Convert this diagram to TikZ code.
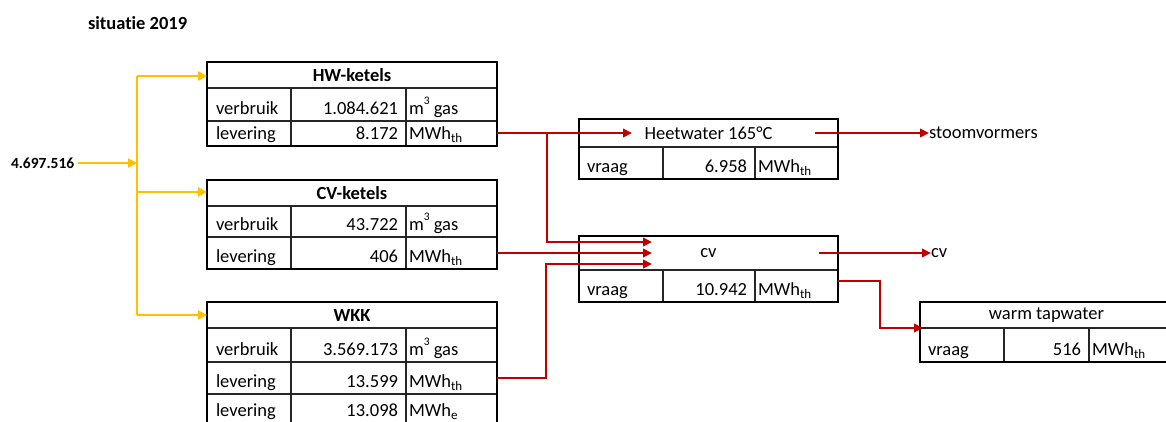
\documentclass[tikz,border=0pt]{standalone}
\usepackage{fontspec}
\setmainfont{Carlito}[Ligatures=NoCommon]
\usetikzlibrary{arrows.meta,calc}
\definecolor{flowyellow}{HTML}{FFC000}
\definecolor{flowred}{HTML}{C00000}
\newcommand\mysup[1]{\raisebox{0.52em}{\fontsize{11.5}{11.5}\selectfont #1}}
\newcommand\mysub[1]{\raisebox{-0.2em}{\fontsize{13}{13}\selectfont #1}}
\begin{document}
\begin{tikzpicture}[x=1pt,y=-1pt,
  every node/.style={inner sep=0pt, outer sep=0pt, font=\fontsize{18.5}{22}\selectfont},
  frame/.style={draw, line width=2.2pt, anchor=north west},
  hdr/.style={anchor=north west},
  rowbox/.style={anchor=north west},
  gridline/.style={line width=1.1pt, black!85},
  lab/.style={anchor=base west},
  val/.style={anchor=base east},
  unit/.style={anchor=base west},
  yarrow/.style={draw=flowyellow, line width=2.4pt, -{Triangle[length=9pt,width=9pt]}},
  yline/.style={draw=flowyellow, line width=2.4pt},
  rarrow/.style={draw=flowred, line width=2.2pt, -{Triangle[length=9pt,width=8.5pt]}},
  rline/.style={draw=flowred, line width=2.2pt}
]
\fill[white] (0,0) rectangle (1166,421);
\useasboundingbox (0,0) rectangle (1166,421);
\clip (0,0) rectangle (1166,421);

% title
\node[anchor=base west, font=\fontsize{18.5}{22}\selectfont\bfseries] (title) at (88,29) {situatie 2019};
\node[anchor=west, font=\fontsize{15.5}{18}\selectfont\bfseries] (src) at (11,163) {4.697.516};

% ---------- HW-ketels ----------
\draw[gridline] (207,88) -- (497,88) (207,121) -- (497,121) (291,88) -- (291,146) (406,88) -- (406,146);
\node[frame, minimum width=290, minimum height=84] (hw) at (207,62) {};
\node[hdr, minimum width=290, minimum height=26] (hwh) at (207,62) {\bfseries HW-ketels};
\node[rowbox, minimum width=290, minimum height=33] (hwr1) at (207,88) {};
\node[rowbox, minimum width=290, minimum height=25] (hwr2) at (207,121) {};
\node[lab] (hwl1) at (216,114) {verbruik};
\node[val] (hwv1) at (398,114) {1.084.621};
\node[unit] (hwu1) at (409,114) {m\mysup{3} gas};
\node[lab] (hwl2) at (216,139) {levering};
\node[val] (hwv2) at (398,139) {8.172};
\node[unit] (hwu2) at (409,139) {MWh\mysub{th}};

% ---------- CV-ketels ----------
\draw[gridline] (207,206) -- (497,206) (207,237) -- (497,237) (291,206) -- (291,269) (406,206) -- (406,269);
\node[frame, minimum width=290, minimum height=89] (cvk) at (207,180) {};
\node[hdr, minimum width=290, minimum height=26] (cvkh) at (207,180) {\bfseries CV-ketels};
\node[rowbox, minimum width=290, minimum height=31] (cvkr1) at (207,206) {};
\node[rowbox, minimum width=290, minimum height=32] (cvkr2) at (207,237) {};
\node[lab] (cvkl1) at (216,230) {verbruik};
\node[val] (cvkv1) at (398,230) {43.722};
\node[unit] (cvku1) at (409,230) {m\mysup{3} gas};
\node[lab] (cvkl2) at (216,262) {levering};
\node[val] (cvkv2) at (398,262) {406};
\node[unit] (cvku2) at (409,262) {MWh\mysub{th}};

% ---------- WKK ----------
\draw[gridline] (207,328) -- (497,328) (207,362) -- (497,362) (207,394) -- (497,394) (291,328) -- (291,428) (406,328) -- (406,428);
\node[frame, minimum width=290, minimum height=126] (wkk) at (207,302) {};
\node[hdr, minimum width=290, minimum height=26] (wkkh) at (207,302) {\bfseries WKK};
\node[rowbox, minimum width=290, minimum height=34] (wkkr1) at (207,328) {};
\node[rowbox, minimum width=290, minimum height=32] (wkkr2) at (207,362) {};
\node[lab] (wkkl1) at (216,355) {verbruik};
\node[val] (wkkv1) at (398,355) {3.569.173};
\node[unit] (wkku1) at (409,355) {m\mysup{3} gas};
\node[lab] (wkkl2) at (216,387) {levering};
\node[val] (wkkv2) at (398,387) {13.599};
\node[unit] (wkku2) at (409,387) {MWh\mysub{th}};
\node[lab] (wkkl3) at (216,416) {levering};
\node[val] (wkkv3) at (398,416) {13.098};
\node[unit] (wkku3) at (409,416) {MWh\mysub{e}};

% ---------- Heetwater ----------
\draw[gridline] (579,147) -- (838,147) (663,147) -- (663,179) (755,147) -- (755,179);
\node[frame, minimum width=259, minimum height=60] (hwt) at (579,119) {};
\node[hdr, minimum width=259, minimum height=28] (hwth) at (579,119) {Heetwater 165°C};
\node[lab] (hwtl) at (587,172) {vraag};
\node[val] (hwtv) at (747,172) {6.958};
\node[unit] (hwtu) at (758,172) {MWh\mysub{th}};

% ---------- cv ----------
\draw[gridline] (579,270) -- (838,270) (663,270) -- (663,302) (755,270) -- (755,302);
\node[frame, minimum width=259, minimum height=66] (cv) at (579,236) {};
\node[hdr, minimum width=259, minimum height=34] (cvh) at (579,236) {cv};
\node[lab] (cvl) at (587,295) {vraag};
\node[val] (cvv) at (747,295) {10.942};
\node[unit] (cvu) at (758,295) {MWh\mysub{th}};

% ---------- warm tapwater ----------
\draw[gridline] (920,328) -- (1173,328) (1004,328) -- (1004,362) (1089,328) -- (1089,362);
\node[frame, minimum width=253, minimum height=60] (tap) at (920,302) {};
\node[hdr, minimum width=253, minimum height=26] (taph) at (920,302) {warm tapwater};
\node[lab] (tapl) at (928,355) {vraag};
\node[val] (tapv) at (1081,355) {516};
\node[unit] (tapu) at (1092,355) {MWh\mysub{th}};

% destinations
\node[anchor=west] (stoom) at (929,133) {stoomvormers};
\node[anchor=west] (cvdest) at (931,253) {cv};

% ---------- yellow gas connectors ----------
\coordinate (jm) at (137,163);
\coordinate (jt) at (137,76);
\coordinate (jc) at (137,192);
\coordinate (jb) at (137,315);
\draw[yline] (jt) -- (jb);
\draw[yarrow] ([xshift=4pt]src.east) -- (jm);
\draw[yarrow] (jt) -- (hwh.west |- jt);
\draw[yarrow] (jc) -- (cvkh.west |- jc);
\draw[yarrow] (jb) -- (wkkh.west |- jb);

% ---------- red heat connectors ----------
\coordinate (hwtin) at (632,133);
\coordinate (br1) at (547,133);
\coordinate (cvin1) at (652,242);
\coordinate (cvin2) at (652,253);
\coordinate (cvin3) at (652,264);
\coordinate (br3) at (546,378);
\coordinate (hwtout) at (815,133);
\coordinate (cvout) at (819,253);
\coordinate (cvtap) at (838,281);
\coordinate (tapbend) at (880,281);
\coordinate (tapin) at (923,328);

\draw[rarrow] (hwr2.east |- hwtin) -- (hwtin);
\draw[rarrow] (br1) -- (br1 |- cvin1) -- (cvin1);
\draw[rarrow] (cvkr2.east |- cvin2) -- (cvin2);
\draw[rarrow] (wkkr2.east |- br3) -- (br3) -- (br3 |- cvin3) -- (cvin3);
\draw[rarrow] (hwtout) -- (stoom.west);
\draw[rarrow] (cvout) -- (cvdest.west);
\draw[rarrow] (cvtap) -- (tapbend) -- (tapbend |- tapin) -- (tapin);
\end{tikzpicture}
\end{document}
